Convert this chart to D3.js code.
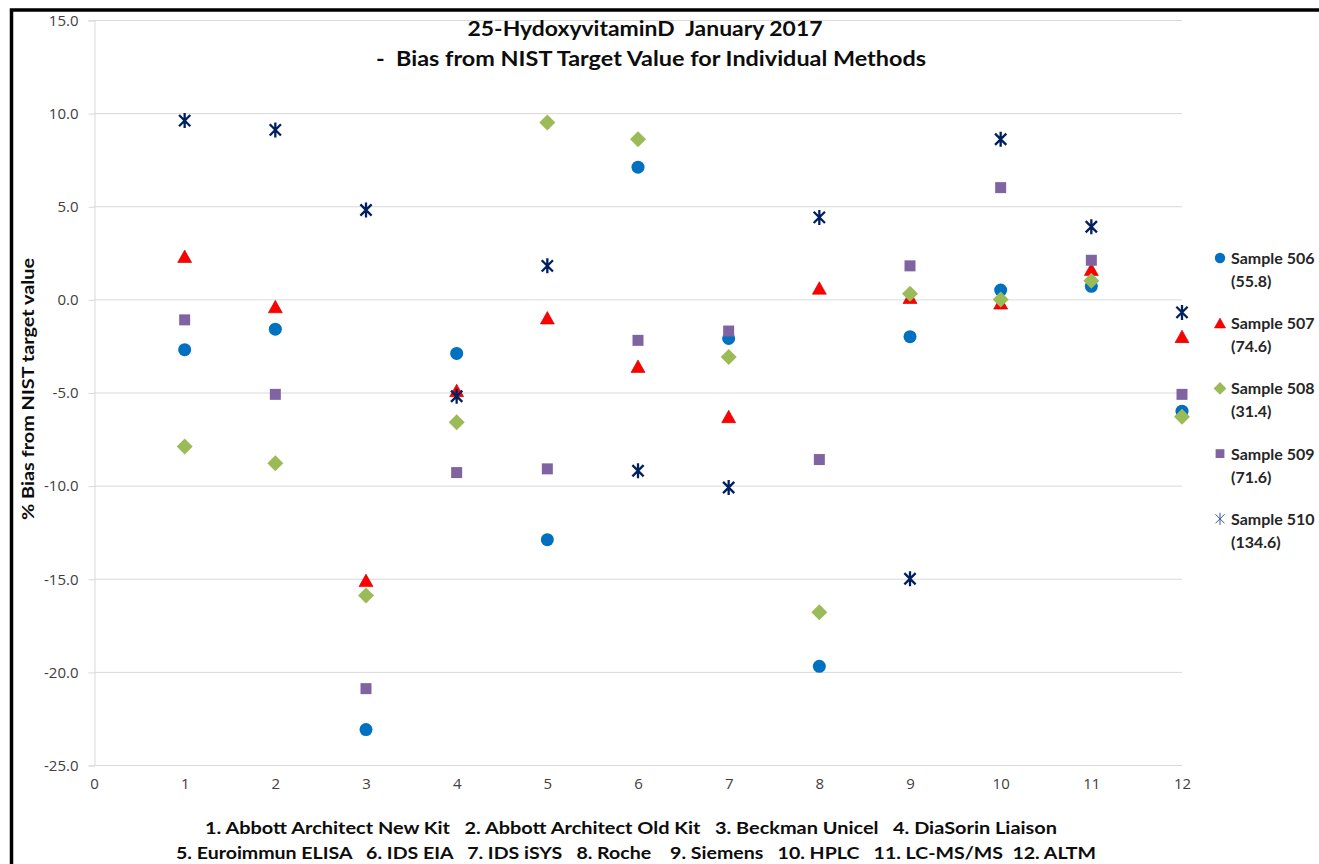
<!DOCTYPE html>
<html>
<head>
<meta charset="utf-8">
<script src="https://cdn.jsdelivr.net/npm/d3@7"></script>
<style>
body{margin:0;background:#fff;}
svg{display:block;}
text{font-family:Lato,"Open Sans",sans-serif;white-space:pre;}
</style>
</head>
<body>
<svg id="chart" width="1319" height="864"></svg>
<script>
// methods 1..12 on the x axis
var methods = [1,2,3,4,5,6,7,8,9,10,11,12]
var xTicks = [0,1,2,3,4,5,6,7,8,9,10,11,12]
var yTicks = [15,10,5,0,-5,-10,-15,-20,-25]

// % bias per sample, one value per method
var s506 = [-2.7,-1.6,-23.1,-2.9,-12.9,7.1,-2.1,-19.7,-2.0,0.5,0.7,-6.0]
var s507 = [2.3,-0.4,-15.1,-4.9,-1.0,-3.6,-6.3,0.6,0.1,-0.2,1.6,-2.0]
var s508 = [-7.9,-8.8,-15.9,-6.6,9.5,8.6,-3.1,-16.8,0.3,0.0,1.0,-6.3]
var s509 = [-1.1,-5.1,-20.9,-9.3,-9.1,-2.2,-1.7,-8.6,1.8,6.0,2.1,-5.1]
var s510 = [9.6,9.1,4.8,-5.2,1.8,-9.2,-10.1,4.4,-15.0,8.6,3.9,-0.7]

var seriesNames = ['Sample 506','Sample 507','Sample 508','Sample 509','Sample 510']
var seriesTargets = ['(55.8)','(74.6)','(31.4)','(71.6)','(134.6)']
var seriesColors = ['#0070C0','#FF0000','#9BBB59','#8064A2','#002060']
var seriesShapes = ['circle','triangle','diamond','square','star']

var title1 = '25-HydoxyvitaminD  January 2017'
var title2 = '-  Bias from NIST Target Value for Individual Methods'
var yTitle = '% Bias from NIST target value'
var note1 = '1. Abbott Architect New Kit   2. Abbott Architect Old Kit   3. Beckman Unicel   4. DiaSorin Liaison'
var note2 = '5. Euroimmun ELISA   6. IDS EIA   7. IDS iSYS   8. Roche    9. Siemens   10. HPLC   11. LC-MS/MS  12. ALTM'

function main(){
	var svg = d3.select('svg#chart')
	var all = [s506,s507,s508,s509,s510]

	var scale_x = d3.scaleLinear().domain([0,12]).range([94,1182])
	var scale_y = d3.scaleLinear().domain([-25,15]).range([765,20])

	// frame (cropped on right / bottom)
	svg.append('path')
		.attr('d','M11.5,870 L11.5,10 L1330,10')
		.style('fill','none')
		.style('stroke','#000')
		.style('stroke-width',3.5)

	// horizontal gridlines
	svg.append('g').selectAll('line')
		.data(yTicks)
		.enter().append('line')
		.attr('x1',scale_x(0)).attr('x2',scale_x(12))
		.attr('y1',function(d){return scale_y(d)+0.5})
		.attr('y2',function(d){return scale_y(d)+0.5})
		.style('stroke','#D9D9D9').style('stroke-width',1)

	// y axis
	var yAxis = d3.axisLeft(scale_y).tickValues(yTicks).tickSize(6).tickPadding(10)
		.tickFormat(function(d){return d.toFixed(1)})
	var gy = svg.append('g').attr('transform','translate('+(scale_x(0)+0.5)+',0.5)').call(yAxis)
	gy.select('.domain').style('stroke','#D9D9D9')
	gy.selectAll('.tick line').style('stroke','#D9D9D9')
	gy.selectAll('.tick text').style('font-size','15px').style('fill','#404040')
		.style('font-family','"Open Sans",Lato,sans-serif')

	// x axis (labels only, the -25 gridline is the axis line)
	var xAxis = d3.axisBottom(scale_x).tickValues(xTicks).tickSize(0).tickPadding(13)
	var gx = svg.append('g').attr('transform','translate(0,'+scale_y(-25)+')').call(xAxis)
	gx.select('.domain').remove()
	gx.selectAll('.tick text').style('font-size','15px').style('fill','#404040')
		.style('font-family','"Open Sans",Lato,sans-serif')

	function drawMarker(g, shape, color, legend){
		if(shape==='circle'){
			g.append('circle').attr('r',6.5).style('fill',color)
		}else if(shape==='triangle'){
			g.append('path').attr('d','M0,-6.5L7,6L-7,6Z').style('fill',color)
				.style('stroke','#C00000').style('stroke-width',0.6)
		}else if(shape==='diamond'){
			g.append('path').attr('d','M0,-8L8,0L0,8L-8,0Z').style('fill',color)
		}else if(shape==='square'){
			g.append('rect').attr('x',-5.5).attr('y',-5.5).attr('width',11).attr('height',11).style('fill',color)
		}else{
			var r = 7.5
			var p = 'M'+(-r*0.75)+','+(-r*0.75)+'L'+(r*0.75)+','+(r*0.75)+
				'M'+(r*0.75)+','+(-r*0.75)+'L'+(-r*0.75)+','+(r*0.75)+
				'M0,'+(-r)+'L0,'+r
			g.append('path').attr('d',p).style('fill','none')
				.style('stroke',legend ? '#2F4F9F' : color)
				.style('stroke-width',legend ? 1.2 : 2.3)
		}
	}

	// points
	all.forEach(function(vals, si){
		var g = svg.append('g').attr('class','series s'+si)
		g.selectAll('g.pt')
			.data(methods.map(function(m,i){return {m:m, v:vals[i]}}))
			.enter().append('g')
			.attr('class','pt')
			.attr('transform',function(d){return 'translate('+scale_x(d.m)+','+scale_y(d.v)+')'})
			.each(function(){drawMarker(d3.select(this), seriesShapes[si], seriesColors[si], false)})
	})

	// legend
	var lg = svg.append('g').selectAll('g')
		.data(seriesNames)
		.enter().append('g')
		.attr('transform',function(d,i){return 'translate(1220,'+(258+i*65.2)+')'})
	lg.each(function(d,i){
		var g = d3.select(this)
		var m = g.append('g').attr('transform','scale(0.8)')
		drawMarker(m, seriesShapes[i], seriesColors[i], true)
		g.append('text').attr('x',11).attr('y',6).text(d)
			.style('font-size','16px').style('font-weight','bold').style('fill','#262626')
		g.append('text').attr('x',11).attr('y',29).text(seriesTargets[i])
			.style('font-size','16px').style('font-weight','bold').style('fill','#262626')
	})

	// titles
	svg.append('text').attr('x',645).attr('y',36).attr('text-anchor','middle').text(title1)
		.attr('textLength',355).attr('lengthAdjust','spacingAndGlyphs')
		.style('font-size','20px').style('font-weight','bold').style('fill','#0D0D0D')
	svg.append('text').attr('x',651).attr('y',66).attr('text-anchor','middle').text(title2)
		.attr('textLength',550).attr('lengthAdjust','spacingAndGlyphs')
		.style('font-size','20px').style('font-weight','bold').style('fill','#0D0D0D')

	svg.append('text').attr('transform','translate(34,389) rotate(-90)')
		.attr('text-anchor','middle').text(yTitle)
		.attr('textLength',262).attr('lengthAdjust','spacingAndGlyphs')
		.style('font-size','17px').style('font-weight','bold').style('fill','#0D0D0D')

	svg.append('text').attr('x',631).attr('y',834).attr('text-anchor','middle').text(note1)
		.attr('textLength',852).attr('lengthAdjust','spacingAndGlyphs')
		.style('font-size','17px').style('font-weight','bold').style('fill','#0D0D0D')
	svg.append('text').attr('x',636).attr('y',859).attr('text-anchor','middle').text(note2)
		.attr('textLength',920).attr('lengthAdjust','spacingAndGlyphs')
		.style('font-size','17px').style('font-weight','bold').style('fill','#0D0D0D')
}
main()
</script>
</body>
</html>
